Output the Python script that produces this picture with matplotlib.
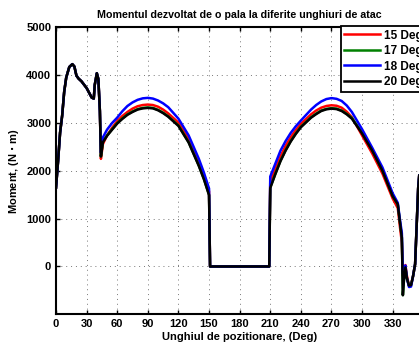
import numpy as np
import matplotlib.pyplot as plt

# shared part of the curve (0..43 deg), identical for every attack angle
angle_start = [0, 2, 4, 6, 8, 10, 13, 16, 18, 20, 22, 25, 30, 35, 37, 38, 40, 41.5, 43]
moment_start = [1650, 2200, 2800, 3150, 3650, 3950, 4170, 4230, 4180, 3990, 3930,
                3870, 3730, 3530, 3510, 3800, 4040, 3920, 3250]

# rest of the revolution, one list per attack angle
angle_rest = [44, 46, 50, 55, 60, 65, 70, 75, 80, 85, 90, 95, 100, 105, 110, 120,
              130, 140, 145, 150, 151, 180, 209, 210, 215, 220, 225, 230, 235, 240,
              250, 255, 260, 265, 270, 275, 280, 285, 290, 300, 310, 320, 330, 335,
              337, 339, 340, 341, 342.5, 344, 346, 348, 350, 352, 355, 356]
m15 = [2250, 2560, 2740, 2900, 3041, 3145, 3230, 3300, 3350, 3375, 3385, 3375, 3340,
       3280, 3200, 3008, 2660, 2170, 1890, 1570, 0, 0, 0, 1770, 2040, 2300, 2520,
       2700, 2850, 2980, 3180, 3260, 3320, 3355, 3370, 3360, 3320, 3235, 3120, 2740,
       2360, 1940, 1420, 1220, 850, 500, -200, -100, 30, -200, -400, -380, -200, 50,
       1640, 1900]
m17 = [2300, 2610, 2740, 2870, 2998, 3095, 3180, 3240, 3290, 3315, 3325, 3315, 3275,
       3215, 3140, 2948, 2600, 2110, 1830, 1500, 0, 0, 0, 1650, 1940, 2210, 2430,
       2620, 2780, 2920, 3120, 3195, 3260, 3295, 3310, 3300, 3260, 3190, 3105, 2800,
       2430, 2005, 1475, 1300, 950, 600, -600, -300, -20, -250, -400, -390, -200, 50,
       1640, 1900]
m18 = [2380, 2700, 2860, 3000, 3112, 3245, 3355, 3430, 3484, 3515, 3525, 3510, 3470,
       3410, 3330, 3090, 2740, 2250, 1960, 1630, 0, 0, 0, 1880, 2150, 2420, 2620,
       2790, 2930, 3050, 3280, 3375, 3450, 3500, 3520, 3505, 3460, 3365, 3230, 2870,
       2480, 2070, 1530, 1330, 1000, 700, -150, -100, 20, -250, -430, -420, -200, 50,
       1640, 1900]
m20 = [2300, 2600, 2730, 2860, 2988, 3085, 3170, 3230, 3280, 3305, 3315, 3305, 3265,
       3205, 3130, 2938, 2590, 2100, 1820, 1490, 0, 0, 0, 1640, 1930, 2200, 2420,
       2610, 2770, 2910, 3110, 3185, 3250, 3285, 3300, 3290, 3250, 3180, 3090, 2780,
       2420, 2000, 1470, 1300, 950, 600, -600, -300, -20, -250, -400, -390, -200, 50,
       1640, 1900]

labels = ['15 Deg', '17 Deg', '18 Deg', '20 Deg']
colors = ['#ff0000', '#008000', '#0000ff', '#000000']

plt.rcParams['font.family'] = 'Liberation Sans'
plt.rcParams['font.weight'] = 'bold'

fig = plt.figure(figsize=(4.19, 3.47), dpi=100)
ax = fig.add_axes([0.1337, 0.0942, 0.8765, 0.8271])

theta = angle_start + angle_rest
for series, lab, col in zip([m15, m17, m18, m20], labels, colors):
    ax.plot(theta, moment_start + series, color=col, lw=1.8, label=lab)

ax.set_xlim(0, 360)
ax.set_ylim(-1000, 5000)
xt = np.arange(0, 361, 30)
ax.set_xticks(xt)
ax.set_xticklabels([str(v) if v < 360 else '' for v in xt])
ax.set_yticks(np.arange(0, 5001, 1000))
ax.grid(True, color='#777777', lw=0.7, linestyle=(0, (1, 4)))
ax.tick_params(direction='in', length=3, width=1, labelsize=8, top=True, right=True)
for lab in ax.get_xticklabels() + ax.get_yticklabels():
    lab.set_fontweight('bold')
for s in ax.spines.values():
    s.set_linewidth(1.5)

ax.set_title('Momentul dezvoltat de o pala la diferite unghiuri de atac',
             fontsize=7.7, fontweight='bold', pad=7)
ax.set_xlabel('Unghiul de pozitionare, (Deg)', fontsize=8, fontweight='bold', labelpad=2)
ax.set_ylabel('Moment, (N $\\cdot$ m)', fontsize=8, fontweight='bold', labelpad=4)

leg = fig.legend(loc='upper left', bbox_to_anchor=(340.7 / 419, 1 - 26 / 347),
                 bbox_transform=fig.transFigure, fontsize=8.5, fancybox=False,
                 framealpha=1, edgecolor='black', handlelength=3.0,
                 handletextpad=0.35, borderpad=0.3, labelspacing=0.3,
                 borderaxespad=0)
leg.get_frame().set_linewidth(1.3)
for t in leg.get_texts():
    t.set_fontweight('bold')

fig.savefig('out.png', dpi=100)
